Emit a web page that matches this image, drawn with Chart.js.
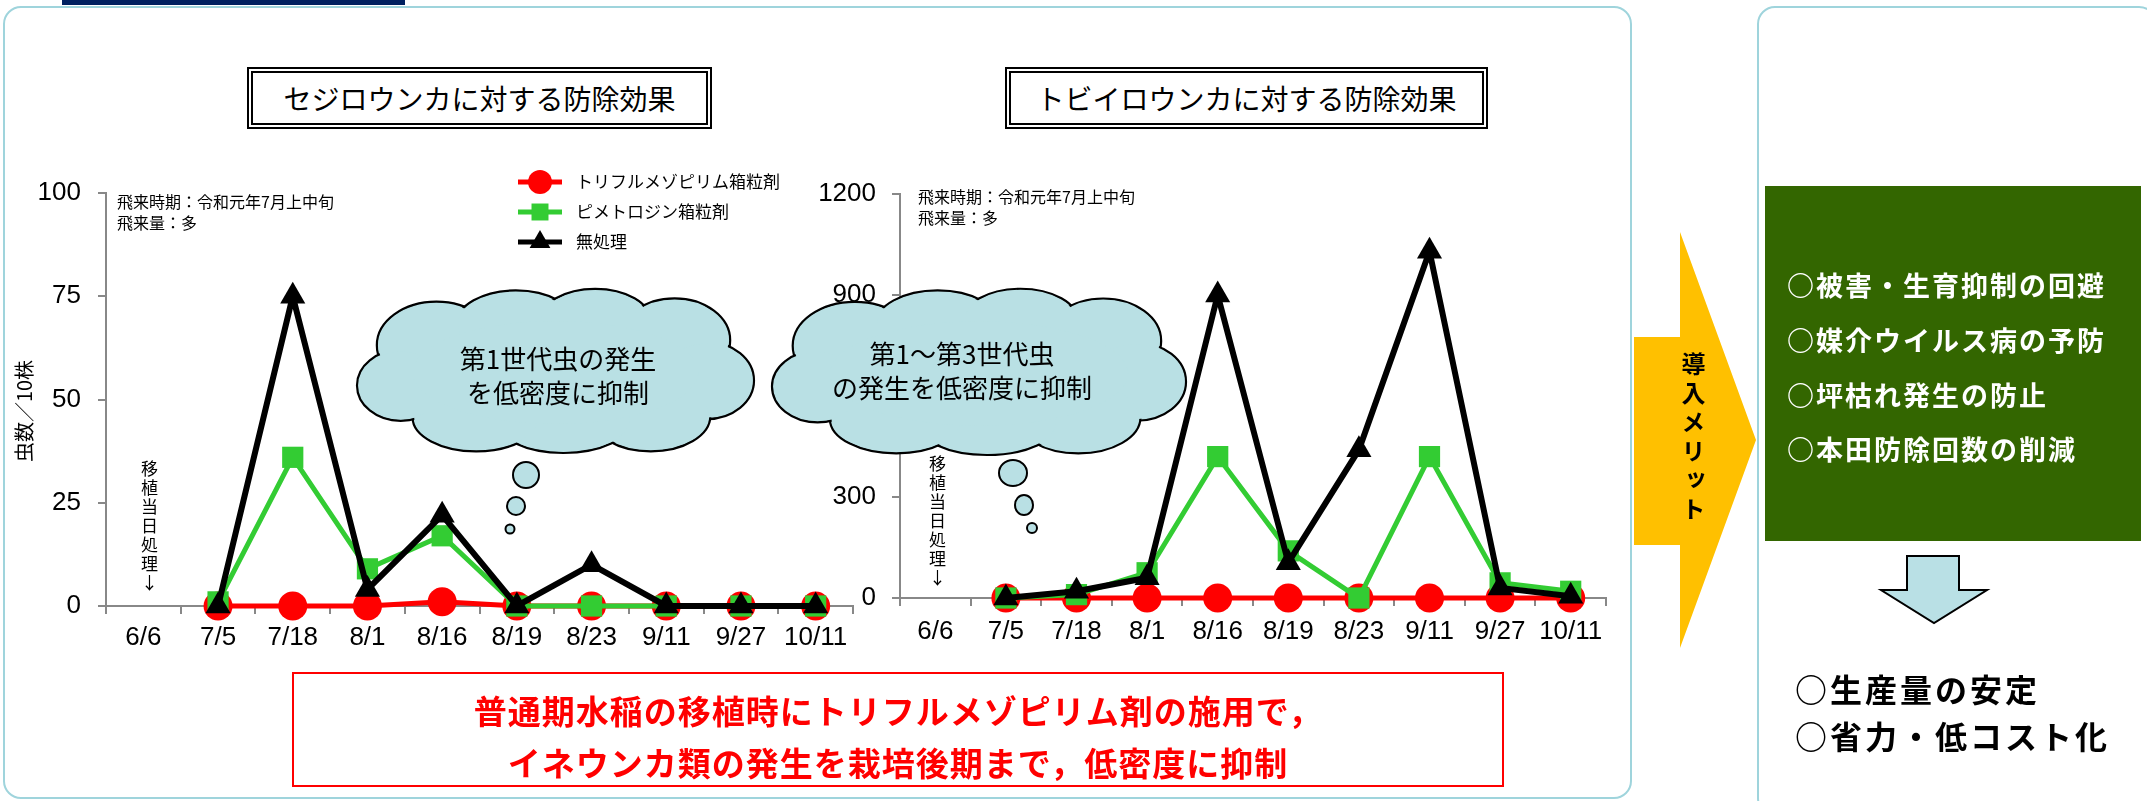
<!DOCTYPE html>
<html>
<head>
<meta charset="utf-8">
<script src="https://cdn.jsdelivr.net/npm/chart.js@4.4.1/dist/chart.umd.min.js"></script>
<style>
    body { margin: 0; background: #fff; }
    #wrap { position: relative; width: 2147px; height: 801px; overflow: hidden; font-family: "Noto Sans CJK JP", sans-serif; }
    .abs { position: absolute; }
    .panel { position: absolute; border: 2px solid #9fd4dc; border-radius: 18px; box-sizing: border-box; }
    .title { position: absolute; border: 6px double #000; box-sizing: border-box; font-size: 28px; text-align: center; line-height: 50px; }
    .note { position: absolute; font-size: 16px; line-height: 21px; white-space: nowrap; }
    .vert { position: absolute; writing-mode: vertical-rl; text-orientation: upright; font-size: 17px; letter-spacing: 2px; }
    .cloudtext { position: absolute; font-size: 26px; line-height: 34px; text-align: center; white-space: nowrap; }
    .merit { position: absolute; color: #fff; font-weight: bold; font-size: 27px; letter-spacing: 2px; white-space: nowrap; }
    .result { position: absolute; color: #000; font-weight: bold; font-size: 32px; letter-spacing: 3px; white-space: nowrap; }
    canvas { position: absolute; }
    svg { position: absolute; left: 0; top: 0; }
</style>
</head>
<body>
<div id="wrap">
    <div class="abs" style="left:62px;top:0;width:343px;height:5px;background:#002060"></div>
    <div class="panel" style="left:3px;top:6px;width:1629px;height:793px"></div>
    <div class="panel" style="left:1757px;top:6px;width:400px;height:810px"></div>

    <div class="title" style="left:247px;top:67px;width:465px;height:62px">セジロウンカに対する防除効果</div>
    <div class="title" style="left:1005px;top:67px;width:483px;height:62px">トビイロウンカに対する防除効果</div>

    <canvas id="chart1" width="870" height="500" style="left:0;top:160px"></canvas>
    <canvas id="chart2" width="845" height="500" style="left:780px;top:160px"></canvas>

    <svg id="deco" width="2147" height="801"></svg>

    <div class="abs" style="left:23px;top:411px;transform:translate(-50%,-50%) rotate(-90deg);font-size:20px;white-space:nowrap">虫数／10株</div>

    <div class="note" style="left:117px;top:191px">飛来時期：令和元年7月上中旬<br>飛来量：多</div>
    <div class="note" style="left:918px;top:186px">飛来時期：令和元年7月上中旬<br>飛来量：多</div>

    <div class="vert" style="left:137px;top:460px">移植当日処理↓</div>
    <div class="vert" style="left:925px;top:455px">移植当日処理↓</div>

    <div class="cloudtext" style="left:558px;top:341px;transform:translateX(-50%)">第1世代虫の発生<br>を低密度に抑制</div>
    <div class="cloudtext" style="left:962px;top:336px;transform:translateX(-50%)">第1～第3世代虫<br>の発生を低密度に抑制</div>

    <div class="abs" style="left:292px;top:672px;width:1212px;height:115px;border:2px solid #ff0000;box-sizing:border-box"></div>
    <div class="abs" style="left:898px;top:684px;transform:translateX(-50%);color:#ff0000;font-weight:bold;font-size:33px;line-height:52px;letter-spacing:1px;text-align:center;white-space:nowrap">普通期水稲の移植時にトリフルメゾピリム剤の施用で，<br>イネウンカ類の発生を栽培後期まで，低密度に抑制</div>

    <div class="abs" style="left:1765px;top:186px;width:376px;height:355px;background:#336600"></div>
    <div class="merit" style="left:1787px;top:265px">○被害・生育抑制の回避</div>
    <div class="merit" style="left:1787px;top:320px">○媒介ウイルス病の予防</div>
    <div class="merit" style="left:1787px;top:375px">○坪枯れ発生の防止</div>
    <div class="merit" style="left:1787px;top:429px">○本田防除回数の削減</div>

    <div class="abs" style="left:1676px;top:352px;writing-mode:vertical-rl;text-orientation:upright;font-weight:bold;font-size:24px;letter-spacing:5px">導入メリット</div>

    <div class="result" style="left:1795px;top:665px">○生産量の安定</div>
    <div class="result" style="left:1795px;top:712px">○省力・低コスト化</div>
</div>

<script>
const categories = ['6/6', '7/5', '7/18', '8/1', '8/16', '8/19', '8/23', '9/11', '9/27', '10/11'];
const seriesNames = ['トリフルメゾピリム箱粒剤', 'ピメトロジン箱粒剤', '無処理'];

// セジロウンカ (虫数/10株)
const sejiroTrifl = [null, 0, 0, 0, 1, 0, 0, 0, 0, 0];
const sejiroPime = [null, 1, 36, 9, 17, 0, 0, 0, 0, 0];
const sejiroNone = [null, 0, 75, 4, 22, 0, 10, 0, 0, 0];
const sejiroTicks = [0, 25, 50, 75, 100];

// トビイロウンカ
const tobiTrifl = [null, 0, 0, 0, 0, 0, 0, 0, 0, 0];
const tobiPime = [null, 0, 10, 75, 420, 140, 0, 420, 45, 20];
const tobiNone = [null, 0, 20, 60, 900, 105, 440, 1030, 30, 5];
const tobiTicks = [0, 300, 600, 900, 1200];

const numFont = "'Liberation Sans', Arial, sans-serif";
const jpFont = "'Noto Sans CJK JP', sans-serif";

function makeDatasets(trifl, pime, none) {
    return [{
            label: seriesNames[0],
            data: trifl,
            borderColor: '#ff0000',
            backgroundColor: '#ff0000',
            borderWidth: 5,
            pointStyle: 'circle',
            pointRadius: 14.5,
            pointBorderWidth: 0,
            order: 3,
            clip: false
        },
        {
            label: seriesNames[1],
            data: pime,
            borderColor: '#33cc33',
            backgroundColor: '#33cc33',
            borderWidth: 5,
            pointStyle: 'rect',
            pointRadius: 15,
            pointBorderWidth: 0,
            order: 2,
            clip: false
        },
        {
            label: seriesNames[2],
            data: none,
            borderColor: '#000000',
            backgroundColor: '#000000',
            borderWidth: 6,
            pointStyle: 'triangle',
            pointRadius: 14.5,
            pointBorderWidth: 0,
            order: 1,
            clip: false
        }];
}

function drawMarker(c, style, x, y, r) {
    c.beginPath();
    if (style === 'circle') {
        c.arc(x, y, r, 0, Math.PI * 2);
    } else if (style === 'rect') {
        const s = r * Math.SQRT1_2;
        c.rect(x - s, y - s, s * 2, s * 2);
    } else {
        c.moveTo(x, y - r);
        c.lineTo(x + r * Math.sin(Math.PI * 2 / 3), y + r / 2);
        c.lineTo(x - r * Math.sin(Math.PI * 2 / 3), y + r / 2);
        c.closePath();
    }
    c.fill();
}

const insideLegend = {
    id: 'insideLegend',
    afterDraw(chart, args, opts) {
        if (!opts.show) {
            return;
        }
        const c = chart.ctx;
        c.save();
        chart.data.datasets.forEach(function (ds, i) {
            const y = opts.y + i * opts.gap;
            c.strokeStyle = ds.borderColor;
            c.fillStyle = ds.backgroundColor;
            c.lineWidth = 5;
            c.beginPath();
            c.moveTo(opts.x, y);
            c.lineTo(opts.x + 44, y);
            c.stroke();
            drawMarker(c, ds.pointStyle, opts.x + 22, y, 12);
            c.fillStyle = '#000';
            c.font = '17px ' + jpFont;
            c.textBaseline = 'middle';
            c.fillText(ds.label, opts.x + 58, y);
        });
        c.restore();
    }
};

function makeOptions(ticks, yWidth, pad, yPad, xPad, legend) {
    return {
        responsive: false,
        animation: false,
        layout: { padding: pad },
        plugins: {
            legend: { display: false },
            tooltip: { enabled: false },
            insideLegend: legend
        },
        scales: {
            x: {
                offset: true,
                grid: { offset: true, drawOnChartArea: false, tickLength: 8, color: '#888', lineWidth: 2 },
                border: { color: '#888', width: 2 },
                ticks: { color: '#000', font: { family: numFont, size: 26 }, padding: xPad, maxRotation: 0, autoSkip: false },
                afterFit: function (scale) { scale.height = 50; }
            },
            y: {
                min: ticks[0],
                max: ticks[ticks.length - 1],
                afterBuildTicks: function (scale) { scale.ticks = ticks.map(v => ({ value: v })); },
                grid: { drawOnChartArea: false, tickLength: 8, color: '#888', lineWidth: 2 },
                border: { color: '#888', width: 2 },
                ticks: {
                    color: '#000',
                    font: { family: numFont, size: 26 },
                    padding: yPad,
                    callback: function (value) { return String(value); }
                },
                afterFit: function (scale) { scale.width = yWidth; }
            }
        }
    };
}

new Chart(document.getElementById('chart1'), {
    type: 'line',
    data: { labels: categories, datasets: makeDatasets(sejiroTrifl, sejiroPime, sejiroNone) },
    options: makeOptions(sejiroTicks, 106, { top: 33, right: 17, bottom: 4, left: 0 }, 17, 8,
        { show: true, x: 518, y: 22, gap: 30 }),
    plugins: [insideLegend]
});

new Chart(document.getElementById('chart2'), {
    type: 'line',
    data: { labels: categories, datasets: makeDatasets(tobiTrifl, tobiPime, tobiNone) },
    options: makeOptions(tobiTicks, 120, { top: 34, right: 19, bottom: 12, left: 0 }, 16, 10,
        { show: false }),
    plugins: [insideLegend]
});

// decorations: clouds, thought bubbles, arrows
const NS = 'http://www.w3.org/2000/svg';
const svg = document.getElementById('deco');
const cloudFill = '#b9e0e4';

function el(name, attrs) {
    const e = document.createElementNS(NS, name);
    for (const k in attrs) {
        e.setAttribute(k, attrs[k]);
    }
    svg.appendChild(e);
    return e;
}

function cloud(x, y, w, h) {
    const lobes = [
        [0.20, 0.33, 0.15, 0.27], [0.40, 0.20, 0.15, 0.21], [0.60, 0.18, 0.14, 0.20],
        [0.80, 0.30, 0.14, 0.26], [0.88, 0.55, 0.12, 0.24], [0.74, 0.77, 0.15, 0.22],
        [0.52, 0.80, 0.17, 0.20], [0.30, 0.78, 0.16, 0.21], [0.11, 0.58, 0.11, 0.22]
    ];
    lobes.forEach(function (l) {
        el('ellipse', { cx: x + l[0] * w, cy: y + l[1] * h, rx: l[2] * w, ry: l[3] * h, fill: cloudFill, stroke: '#000', 'stroke-width': 2.2 });
    });
    lobes.forEach(function (l) {
        el('ellipse', { cx: x + l[0] * w, cy: y + l[1] * h, rx: l[2] * w - 1.6, ry: l[3] * h - 1.6, fill: cloudFill });
    });
    el('ellipse', { cx: x + 0.5 * w, cy: y + 0.5 * h, rx: 0.36 * w, ry: 0.32 * h, fill: cloudFill });
}

function bubble(cx, cy, rx, ry) {
    el('ellipse', { cx: cx, cy: cy, rx: rx, ry: ry, fill: cloudFill, stroke: '#000', 'stroke-width': 2 });
}

cloud(357, 292, 397, 161);
bubble(526, 475, 13, 13);
bubble(516, 506, 9, 9);
bubble(510, 529, 4.5, 4.5);

cloud(772, 292, 414, 163);
bubble(1013, 473, 14, 13);
bubble(1024, 505, 9, 10);
bubble(1032, 528, 5, 5);

el('polygon', { points: '1634,337 1680,337 1680,232 1756,440 1680,648 1680,545 1634,545', fill: '#ffc000' });
el('polygon', { points: '1907,556 1959,556 1959,590 1987,590 1934,623 1881,590 1907,590', fill: '#b9e0e5', stroke: '#000', 'stroke-width': 2 });
</script>
</body>
</html>
